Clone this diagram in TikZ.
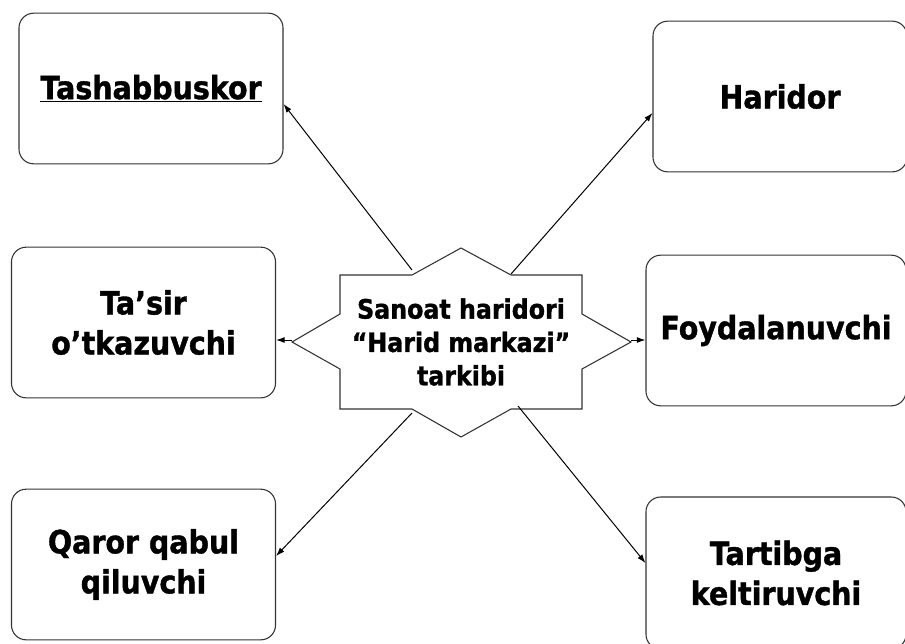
\documentclass[tikz,border=0pt]{standalone}
\usepackage{fontspec}
\setmainfont{DejaVu Sans}[FakeStretch=0.89, BoldFeatures={FakeBold=1.2}]
\usetikzlibrary{arrows.meta}

\tikzset{
    box/.style={draw=black!80, line width=0.8pt, rounded corners=11pt,
        minimum width=198pt, minimum height=113pt, align=center,
        font=\bfseries\fontsize{24}{30}\selectfont},
    link/.style={-{Latex[length=6.5pt,width=4.5pt]}, line width=0.75pt},
}

\begin{document}
\begin{tikzpicture}[x=0.75pt, y=-0.75pt]
    \useasboundingbox (0,0) rectangle (905,643);

    % Draw the star in the middle
    \draw[black!80, line width=0.8pt, fill=white]
        (340,275) -- (412,275) -- (461,248) -- (511,275) -- (582,275)
        -- (582,314) -- (631,342) -- (582,369) -- (582,409)
        -- (511,409) -- (461,437) -- (412,409) -- (340,409)
        -- (340,369) -- (292,342) -- (340,314) -- cycle;
    \node[align=center, font=\bfseries\fontsize{20}{25}\selectfont] (hub) at (461,342)
        {Sanoat haridori\\``Harid markazi''\\tarkibi};

    % Points on the star where the arrows start
    \coordinate (s-tl) at (412,270);
    \coordinate (s-tr) at (511,274);
    \coordinate (s-l) at (292,340);
    \coordinate (s-r) at (631,340);
    \coordinate (s-bl) at (412,413);
    \coordinate (s-br) at (518,406);

    % Boxes on the left
    \node[box] (tash) at (151,88.5) {\underline{Tashabbuskor}};
    \node[box] (tasir) at (143.5,322.5) {Ta’sir\\o’tkazuvchi};
    \node[box] (qaror) at (143.5,564.5) {Qaror qabul\\qiluvchi};

    % Boxes on the right
    \node[box, minimum width=190.5pt] (harid) at (780,96.5) {Haridor};
    \node[box, minimum width=195pt] (foyda) at (776,330.5) {Foydalanuvchi};
    \node[box, minimum width=195pt, minimum height=114pt] (tartib) at (776,573) {Tartibga\\keltiruvchi};

    % Arrows
    \draw[link] (s-tl) -- (tash.east |- 0,104);
    \draw[link] (s-tr) -- (harid.west |- 0,113);
    \draw[link] (s-l) -- (tasir.east |- s-l);
    \draw[link] (s-r) -- (foyda.west |- s-r);
    \draw[link] (s-bl) -- (qaror.east |- 0,556);
    \draw[link] (s-br) -- (tartib.west |- 0,563);

\end{tikzpicture}
\end{document}
